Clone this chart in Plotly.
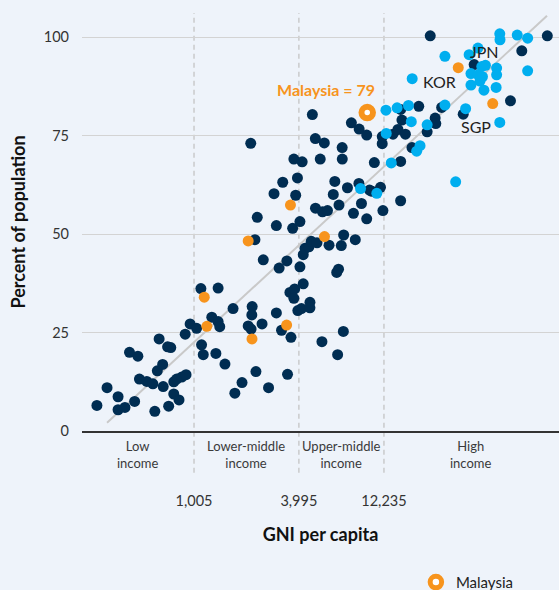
import numpy as np
import plotly.graph_objects as go

NAVY = "#002D52"
SKY = "#00AEEF"
ORANGE = "#F7941D"
BG = "#EEF3FA"
FONT = "Lato"

# income group thresholds (GNI per capita, USD)
income_bounds = [1005, 3995, 12235]
income_labels = ["Low<br>income", "Lower-middle<br>income", "Upper-middle<br>income", "High<br>income"]
tick_text = ["1,005", "3,995", "12,235"]

# other economies (dark dots)
dark_gni = [280, 320, 370, 370, 405, 460, 600, 720, 670, 490, 540, 585, 430, 480, 635, 710, 740, 620, 665, 770,
            800, 855, 905, 770, 825, 895, 955,
            1040, 1100, 1380, 1270, 1380, 1410, 1110, 1135, 1340, 1510, 1680, 1720, 1890, 2160, 2150, 2050, 2130,
            2270, 2460, 2680, 2500, 2240, 2310, 2120, 2970, 2970, 3080, 3410, 3180, 3600, 3440, 2880, 3230, 3740,
            4170, 3920, 3830, 3680, 4050, 3550, 3780, 3740, 3940,
            4130, 4230, 4050, 4230, 4330, 4560, 4700, 5070, 4620, 4620, 5410, 7170, 6650, 5940, 6980, 7200, 8390,
            9750, 6570, 6730, 4970, 5450, 5820, 6770, 9100, 8190, 12070, 4770, 4960, 5580, 7060, 5290, 7070, 6410,
            6280, 7570, 8800, 10120, 10460, 11690, 10780, 7970, 8830, 9750, 11970, 11960,
            13780, 14710, 16230, 15240, 15500, 15240, 15240, 19350, 17690, 24000, 24200, 21600, 26150, 22500,
            34720, 40100, 64680, 75040, 105000]
dark_pct = [6.5, 11.0, 8.7, 5.4, 6.0, 7.5, 5.0, 6.3, 11.3, 13.2, 12.6, 12.0, 20.0, 19.0, 23.4, 21.4, 21.2, 15.3,
            16.9, 12.5, 13.2, 13.7, 14.3, 9.4, 7.9, 24.6, 27.2,
            26.1, 36.2, 36.3, 28.9, 27.8, 26.5, 21.9, 19.4, 19.7, 17.0, 31.1, 9.6, 12.3, 31.6, 29.5, 26.7, 25.9,
            15.1, 27.2, 11.0, 43.5, 48.6, 54.3, 73.1, 52.2, 30.0, 41.4, 43.2, 25.6, 23.8, 14.4, 60.3, 63.2, 69.1,
            68.4, 64.3, 59.9, 51.5, 53.2, 35.2, 36.1, 33.7, 30.6,
            31.1, 37.4, 41.7, 44.8, 46.4, 46.8, 48.2, 47.8, 32.7, 31.3, 22.7, 25.3, 19.4, 47.2, 47.1, 49.8, 48.6,
            53.9, 40.3, 41.1, 56.6, 55.7, 56.0, 57.4, 57.8, 55.3, 56.0, 80.4, 74.3, 73.2, 72.0, 69.1, 69.1, 63.4,
            60.1, 61.8, 62.9, 61.2, 60.9, 61.9, 68.2, 78.3, 76.7, 75.2, 74.8, 73.0,
            75.4, 76.6, 75.4, 81.7, 79.0, 68.5, 58.5, 82.5, 72.0, 79.5, 78.1, 76.0, 82.2, 100.4,
            80.5, 93.1, 83.9, 96.6, 100.4]

# comparator economies (light blue dots)
light_gni = [12560, 14550, 16890, 17530, 12610, 13470, 8990, 11140, 17740, 19670, 18820, 21600, 27300, 35840,
             31440, 56170, 27300, 37540, 42150, 38440, 44330, 46530, 53900, 53900, 42310, 44720, 43280, 38440,
             45600, 53540, 81060, 56170, 56330, 70690, 81060]
light_pct = [81.5, 82.1, 82.7, 78.6, 75.6, 68.1, 61.6, 60.4, 89.5, 72.5, 71.1, 77.8, 82.8, 81.9, 63.3, 78.4,
             95.2, 95.6, 97.3, 90.8, 92.6, 92.9, 92.2, 90.5, 90.5, 90.0, 88.9, 87.9, 86.6, 87.3, 91.5, 100.9,
             99.4, 100.6, 99.8]

# highlighted economies (orange dots)
orange_gni = [1150, 1190, 2050, 2155, 3400, 3575, 5595, 32530, 51190]
orange_pct = [34.0, 26.6, 48.3, 23.4, 26.9, 57.4, 49.4, 92.3, 83.2]

malaysia_gni = 9820
malaysia_pct = 80.9
malaysia_value = 79

# fitted line end points
fit_gni = [320, 104600]
fit_pct = [2.1, 105.5]

# country labels
label_names = ["JPN", "KOR", "SGP"]
label_gni = [46200, 25340, 40930]
label_pct = [96.4, 88.8, 77.3]

x_range = [2.362, 5.088]
y_range = [0, 106.2]

fig = go.Figure()
fig.add_trace(go.Scatter(x=fit_gni, y=fit_pct, mode="lines", line=dict(color="#C9C9C9", width=2),
                         hoverinfo="skip", showlegend=False))
fig.add_trace(go.Scatter(x=dark_gni, y=dark_pct, mode="markers", marker=dict(size=11, color=NAVY),
                         showlegend=False))
fig.add_trace(go.Scatter(x=light_gni, y=light_pct, mode="markers", marker=dict(size=11, color=SKY),
                         showlegend=False))
fig.add_trace(go.Scatter(x=orange_gni, y=orange_pct, mode="markers", marker=dict(size=11, color=ORANGE),
                         showlegend=False))
fig.add_trace(go.Scatter(x=[malaysia_gni], y=[malaysia_pct], mode="markers", name="Malaysia",
                         marker=dict(size=11.5, color="white", line=dict(color=ORANGE, width=6))))

# income group boundaries
for b in income_bounds:
    fig.add_shape(type="line", xref="x", yref="paper", x0=b, x1=b, y0=-0.1, y1=1,
                  line=dict(color="#C4C4C4", width=1.3, dash="5px,4px"), layer="below")

# income group labels centred between boundaries
edges = [x_range[0]] + list(np.log10(income_bounds)) + [x_range[1]]
for i, lab in enumerate(income_labels):
    fig.add_annotation(x=(edges[i] + edges[i + 1]) / 2, y=-0.0574, xref="x", yref="paper", text=lab,
                       yanchor="middle", showarrow=False,
                       font=dict(size=13, color="#3A3A3A", family=FONT))

for name, g, p in zip(label_names, label_gni, label_pct):
    fig.add_annotation(x=np.log10(g), y=p, text=name, showarrow=False,
                       font=dict(size=16, color="#222222", family=FONT))

fig.add_annotation(x=np.log10(5730), y=86.8, text=f"<b>Malaysia = {malaysia_value}</b>", showarrow=False,
                   font=dict(size=16, color=ORANGE, family=FONT))

fig.update_layout(
    width=559, height=590,
    margin=dict(l=82, r=0, t=13, b=159),
    paper_bgcolor=BG, plot_bgcolor=BG,
    font=dict(family=FONT, color="#333333", size=14),
    showlegend=True,
    legend=dict(orientation="h", x=0.7, xanchor="left", yref="container", y=0.013, yanchor="middle",
                bgcolor="rgba(0,0,0,0)", font=dict(size=15, color="#222222")),
    xaxis=dict(type="log", range=x_range, tickvals=income_bounds, ticktext=tick_text, automargin=False,
               ticks="", ticklabelstandoff=56, showgrid=False, zeroline=False,
               showline=True, linecolor="#333333", linewidth=1.5,
               tickfont=dict(size=14.5, color="#333333"),
               title=dict(text="<b>GNI per capita</b>", standoff=20,
                          font=dict(size=18, color="#111111"))),
    yaxis=dict(range=y_range, tickvals=[0, 25, 50, 75, 100], ticks="", ticklabelstandoff=12, automargin=False,
               showgrid=True, gridcolor="#D3D3D3", gridwidth=1.3, zeroline=False,
               tickfont=dict(size=14.5, color="#333333"),
               title=dict(text="<b>Percent of population</b>", standoff=13,
                          font=dict(size=18, color="#111111"))),
)

# drop the default page margin so the figure sits flush in the window
fig.write_html("out.html", config={"displayModeBar": False},
               post_script="document.body.style.margin='0';document.body.style.overflow='hidden';")
